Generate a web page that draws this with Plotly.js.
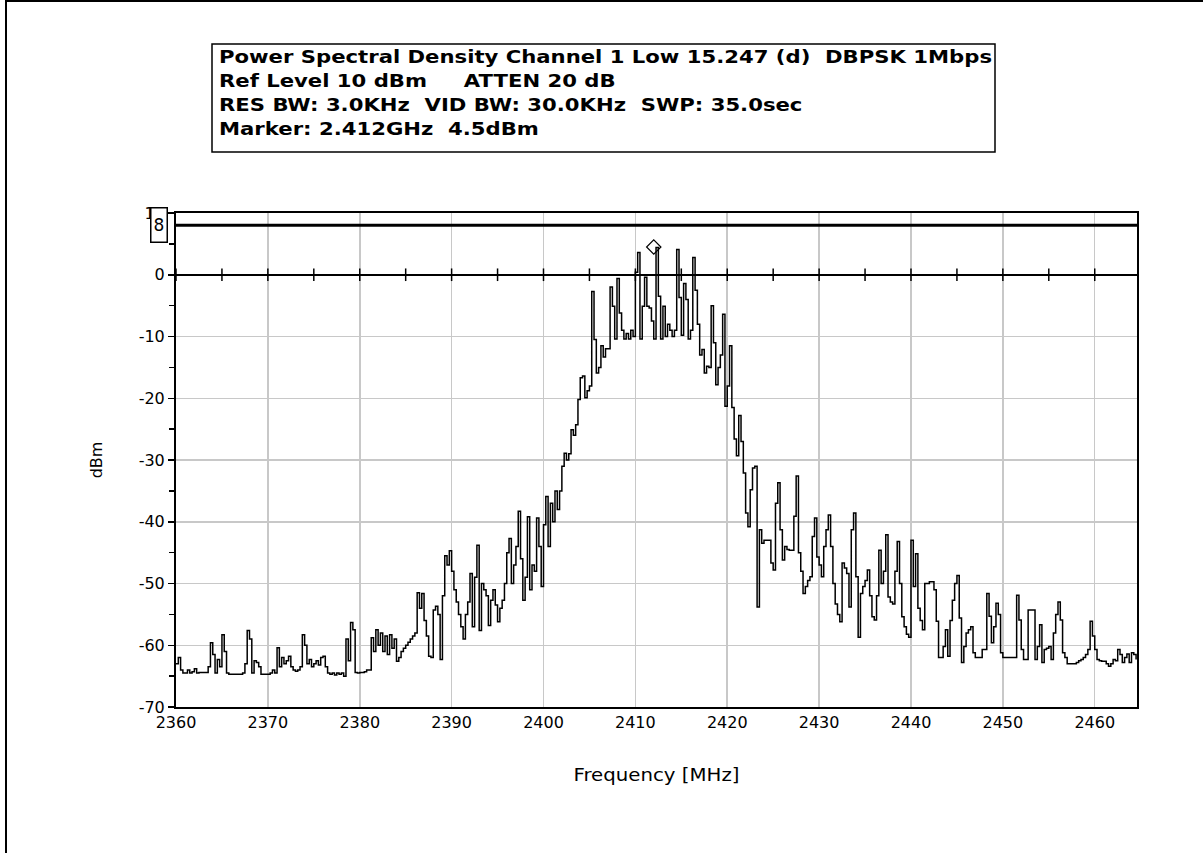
<!DOCTYPE html>
<html>
<head>
<meta charset="utf-8">
<script src="https://cdn.plot.ly/plotly-3.0.1.min.js"></script>
<style>
  html, body { margin: 0; padding: 0; background: #ffffff; }
  #chart { width: 1203px; height: 853px; }
</style>
</head>
<body>
<div id="chart"></div>
<script>
// ---- Data ----
const freqStart = 2360;     // MHz, first sweep point
const freqStep = 0.25;      // MHz between sweep points
// PSD trace in dBm, one row per MHz (4 points per MHz)
const psd = [
  -63, -62, -64, -64.5,        // 2360
  -64.5, -64, -64.5, -64.3,    // 2361
  -63.8, -64.5, -64.4, -64.4,  // 2362
  -64.4, -64.4, -63.5, -59.6,  // 2363
  -61.5, -64.5, -62.3, -63.5,  // 2364
  -58.3, -61, -64.5, -64.7,    // 2365
  -64.7, -64.7, -64.7, -64.7,  // 2366
  -64.7, -64.5, -63, -57.6,    // 2367
  -59, -64.5, -62.5, -62.8,    // 2368
  -63.5, -64.7, -64.7, -64.7,  // 2369
  -64.7, -64.5, -64, -64.5,    // 2370
  -60.4, -63.5, -62, -63,      // 2371
  -62.5, -61.8, -63.5, -64,    // 2372
  -64.2, -64, -63.5, -58.3,    // 2373
  -60, -63, -62.3, -63.5,      // 2374
  -63, -62.5, -63.2, -62,      // 2375
  -61.8, -63.5, -64.5, -64.7,  // 2376
  -64.5, -64.8, -64.5, -64.7,  // 2377
  -64.5, -65, -59, -62.5,      // 2378
  -56.3, -57.5, -64.4, -64.5,  // 2379
  -64.4, -64.4, -64.3, -64,    // 2380
  -64, -58.8, -61, -57.5,      // 2381
  -60, -58, -61, -58.5,        // 2382
  -61.5, -58.3, -60.5, -59,    // 2383
  -62.6, -62, -61, -60.5,      // 2384
  -60, -59.5, -59, -58.5,      // 2385
  -58, -51.5, -54, -51.6,      // 2386
  -56, -58.5, -61.8, -62,      // 2387
  -54.3, -53.7, -55, -62.3,    // 2388
  -52, -45.5, -47, -44.7,      // 2389
  -48, -51, -53, -55,          // 2390
  -57, -59, -55, -53,          // 2391
  -48.4, -57, -49, -43.8,      // 2392
  -57.6, -50, -51, -52,        // 2393
  -56.8, -52.7, -51, -53.5,    // 2394
  -56.2, -54, -52.7, -50,      // 2395
  -45, -42.7, -50, -47,        // 2396
  -44, -38.3, -46, -52.7,      // 2397
  -49, -39.2, -51, -47,        // 2398
  -48, -39.4, -44, -50.5,      // 2399
  -40.5, -35.9, -44, -37,      // 2400
  -40, -35, -38, -35,          // 2401
  -31, -28.9, -30, -29,        // 2402
  -25.1, -26, -24.3, -20.2,    // 2403
  -16.7, -16.4, -19.9, -18.8,  // 2404
  -18, -2.7, -10.5, -15.9,     // 2405
  -15, -11.5, -13.3, -12,      // 2406
  -12, -2.0, -5.1, -10.4,      // 2407
  -0.6, -6.2, -9, -10.4,       // 2408
  -9.5, -10.4, -9, -10,        // 2409
  0.4, 3.6, -10.4, -5.1,       // 2410
  -0.4, -5.1, -5.4, -7.5,      // 2411
  -10.4, 4.4, -3.5, -10.4,     // 2412
  -5.1, -10, -8, -9,           // 2413
  -10, -9, 4.1, -3.7,          // 2414
  -9.8, -1.4, -4, -10.4,       // 2415
  -9, 2.8, -2.5, -8,           // 2416
  -13, -12.1, -15.9, -14.8,    // 2417
  -15, -5, -11, -17.8,         // 2418
  -15, -13, -6.4, -21.3,       // 2419
  -18, -11.5, -21.5, -26.6,    // 2420
  -29.3, -22.8, -27, -32.1,    // 2421
  -38.6, -40.8, -34.8, -31.3,  // 2422
  -31, -53.8, -41.3, -43.5,    // 2423
  -43, -43, -43, -46.7,        // 2424
  -47.8, -37, -33.7, -41.3,    // 2425
  -46.2, -44, -44.5, -44.6,    // 2426
  -44.6, -39.1, -32.6, -45,    // 2427
  -48, -51.6, -50.5, -49.5,    // 2428
  -48.9, -42.4, -39.4, -45.7,  // 2429
  -47, -48.9, -44, -41.3,      // 2430
  -38.9, -44, -50, -53.3,      // 2431
  -55, -56.2, -46.7, -47.5,    // 2432
  -48.4, -53.8, -41.3, -38.6,  // 2433
  -48.9, -58.7, -51.6, -50.5,  // 2434
  -49.5, -47.8, -52, -55.4,    // 2435
  -55.9, -52, -44.6, -50,      // 2436
  -48, -42.1, -52.2, -53,      // 2437
  -53.3, -48, -43.2, -50,      // 2438
  -55.4, -57, -58.2, -58.7,    // 2439
  -43, -50.5, -45.2, -54,      // 2440
  -56, -57.5, -50, -50,        // 2441
  -49.7, -49.7, -51, -56.1,    // 2442
  -62, -62, -60.2, -57.5,      // 2443
  -61.8, -56, -52.7, -50,      // 2444
  -48.7, -55.6, -62.8, -60.2,  // 2445
  -58, -57.5, -57, -61.2,      // 2446
  -62, -62, -62, -60.7,        // 2447
  -60.7, -51.6, -55.3, -59.6,  // 2448
  -57, -53.2, -55, -61.2,      // 2449
  -62, -62, -62, -62,          // 2450
  -62, -62, -51.9, -55.9,      // 2451
  -60.7, -62.3, -62.3, -54.3,  // 2452
  -54.3, -54.3, -62.3, -60.2,  // 2453
  -56.7, -62.8, -60.7, -60.5,  // 2454
  -60.2, -62.3, -58, -55,      // 2455
  -53, -55.9, -61.2, -62,      // 2456
  -63, -63, -63, -63,          // 2457
  -62.8, -62.5, -62.3, -62,    // 2458
  -61.5, -60.7, -56.1, -58.5,  // 2459
  -60.7, -62.3, -62.5, -62.6,  // 2460
  -62.6, -63, -63.4, -63,      // 2461
  -62.3, -62.5, -60.7, -61.5,  // 2462
  -62.8, -62, -61.4, -62.8,    // 2463
  -61.2, -61.5, -62.3          // 2464
];
const freqs = psd.map((_, i) => freqStart + i * freqStep);

const limitLevel = 8;            // dBm limit line
const markerFreq = 2412;         // MHz
const markerLevel = 4.5;         // dBm
const zeroTickFreqs = [2360, 2365, 2370, 2375, 2380, 2385, 2390, 2395, 2400, 2405,
                       2410, 2415, 2420, 2425, 2430, 2435, 2440, 2445, 2450, 2455, 2460];
const xRange = [2360, 2464.6];
const yRange = [-70, 10];
const yTickVals = [-70, -60, -50, -40, -30, -20, -10, 0, 10];
const yTickText = ["-70", "-60", "-50", "-40", "-30", "-20", "-10", "0", "10"];
const xTickVals = [2360, 2370, 2380, 2390, 2400, 2410, 2420, 2430, 2440, 2450, 2460];
const xTickText = ["2360", "2370", "2380", "2390", "2400", "2410", "2420", "2430", "2440", "2450", "2460"];

const headerLines = [
  "Power Spectral Density Channel 1 Low 15.247 (d)\u00a0\u00a0DBPSK 1Mbps",
  "Ref Level 10 dBm\u00a0\u00a0\u00a0\u00a0\u00a0ATTEN 20 dB",
  "RES BW: 3.0KHz\u00a0\u00a0VID BW: 30.0KHz\u00a0\u00a0SWP: 35.0sec",
  "Marker: 2.412GHz\u00a0\u00a04.5dBm"
];

// ---- Layout geometry (pixels) ----
const L = 176, R = 1137, T = 213, B = 707;
const W = R - L, H = B - T;
const PX = p => (p - L) / W;
const PY = p => (B - p) / H;

const FONT = "DejaVu Sans, Arial, sans-serif";

const traces = [
  {
    x: freqs, y: psd, type: "scatter", mode: "lines",
    line: { color: "#000000", width: 1.5, shape: "hv" },
    hoverinfo: "skip", showlegend: false
  },
  {
    x: zeroTickFreqs, y: zeroTickFreqs.map(() => 0), type: "scatter", mode: "markers",
    marker: { symbol: "line-ns", size: 9, line: { color: "#000000", width: 1.5 } },
    hoverinfo: "skip", showlegend: false, cliponaxis: false
  },
  {
    x: [markerFreq], y: [markerLevel], type: "scatter", mode: "markers",
    marker: { symbol: "diamond-open", size: 11, color: "#000000", line: { width: 1.2 } },
    hoverinfo: "skip", showlegend: false
  }
];

const annotations = headerLines.map((t, i) => ({
  xref: "paper", yref: "paper", x: PX(217), y: PY(56 + 24 * i),
  xanchor: "left", yanchor: "middle", align: "left", showarrow: false, text: t,
  font: { family: FONT, size: 18, color: "#000000", weight: 700 }
}));
annotations.push({
  xref: "paper", yref: "y", x: PX(159), y: limitLevel,
  xanchor: "center", yanchor: "middle", showarrow: false, text: "8",
  font: { family: FONT, size: 17, color: "#000000" },
  bgcolor: "#ffffff", bordercolor: "#000000", borderwidth: 1.5,
  width: 13, height: 31, borderpad: 1
});

const shapes = [
  // header box
  { type: "rect", xref: "paper", yref: "paper",
    x0: PX(212), x1: PX(995), y0: PY(44), y1: PY(152),
    line: { color: "#000000", width: 1.5 }, fillcolor: "rgba(0,0,0,0)" },
  // limit line
  { type: "line", xref: "paper", yref: "y", x0: 0, x1: 1, y0: limitLevel, y1: limitLevel,
    line: { color: "#000000", width: 3 } },
  // outer frame (left and top)
  { type: "line", xref: "paper", yref: "paper", x0: PX(6), x1: PX(6), y0: PY(0), y1: PY(853),
    line: { color: "#000000", width: 2 } },
  { type: "line", xref: "paper", yref: "paper", x0: PX(6), x1: PX(1203), y0: PY(1), y1: PY(1),
    line: { color: "#000000", width: 2 } }
];

const layout = {
  width: 1203, height: 853,
  paper_bgcolor: "#ffffff", plot_bgcolor: "#ffffff",
  margin: { l: L, r: 1203 - R, t: T, b: 853 - B, pad: 0 },
  font: { family: FONT, size: 16, color: "#000000" },
  showlegend: false,
  xaxis: {
    range: xRange, tickmode: "array", tickvals: xTickVals, ticktext: xTickText,
    showgrid: true, gridcolor: "#c8c8c8", gridwidth: 1.5,
    showline: true, linecolor: "#000000", linewidth: 2, mirror: true,
    ticks: "", zeroline: false,
    tickfont: { family: FONT, size: 16, color: "#000000" },
    title: { text: "Frequency [MHz]", standoff: 38, font: { family: FONT, size: 17, color: "#000000" } }
  },
  yaxis: {
    range: yRange, tickmode: "array", tickvals: yTickVals, ticktext: yTickText,
    showgrid: true, gridcolor: "#c8c8c8", gridwidth: 1.5,
    showline: true, linecolor: "#000000", linewidth: 2, mirror: true,
    ticks: "outside", ticklen: 6, tickwidth: 1.5, tickcolor: "#000000",
    minor: { dtick: 5, tick0: 0, ticks: "outside", ticklen: 5, tickwidth: 1.5, tickcolor: "#000000", showgrid: false },
    zeroline: true, zerolinecolor: "#000000", zerolinewidth: 1.5,
    tickfont: { family: FONT, size: 16, color: "#000000" },
    title: { text: "dBm", standoff: 32, font: { family: FONT, size: 16, color: "#000000" } }
  },
  annotations: annotations,
  shapes: shapes
};

Plotly.newPlot("chart", traces, layout, { staticPlot: true, displayModeBar: false }).then(gd => {
  // The reference's lettering is wider than the installed fonts: stretch horizontally.
  const setLen = (el, len) => {
    el.setAttribute("textLength", len.toFixed(1));
    el.setAttribute("lengthAdjust", "spacingAndGlyphs");
  };
  const headerTexts = Array.from(gd.querySelectorAll(".annotation-text")).slice(0, headerLines.length);
  if (headerTexts.length) {
    const w0 = headerTexts[0].getComputedTextLength();
    if (w0 > 0) {
      const k = 773 / w0;
      headerTexts.forEach(el => setLen(el, el.getComputedTextLength() * k));
    }
  }
  const xt = gd.querySelector(".xtitle");
  if (xt) {
    const w = xt.getComputedTextLength();
    if (w > 0) setLen(xt, 166);
  }
});
</script>
</body>
</html>
